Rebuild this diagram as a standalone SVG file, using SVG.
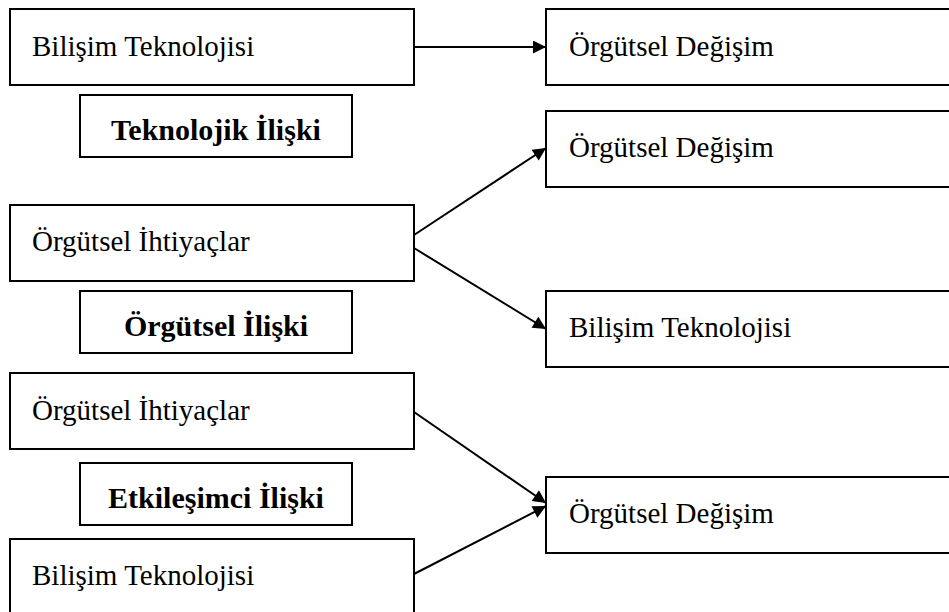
<svg xmlns="http://www.w3.org/2000/svg" width="949" height="612" viewBox="0 0 949 612">
<defs>
<style>
.box{fill:#fff;stroke:#000;stroke-width:2}
text{font-family:'Liberation Serif','Times New Roman','DejaVu Serif',serif;fill:#000}
.t{font-size:29px}
.b{font-size:30px;font-weight:bold}
.c{stroke:#000;stroke-width:2;fill:none;marker-end:url(#ah)}
</style>
<marker id="ah" viewBox="0 0 10 10" refX="10" refY="5" markerWidth="16" markerHeight="13" markerUnits="userSpaceOnUse" orient="auto">
<path d="M0,0 L10,5 L0,10 z" fill="#000"/>
</marker>
</defs>
<rect width="949" height="612" fill="#fff"/>
<g id="n1"><rect class="box" x="10" y="9" width="404" height="76"/><text class="t" x="32" y="56" font-family="Liberation Serif, serif">Bilişim Teknolojisi</text></g>
<g id="l1"><rect class="box" x="80" y="95" width="272" height="62"/><text class="b" x="216" y="140" text-anchor="middle" font-family="Liberation Serif, serif">Teknolojik İlişki</text></g>
<g id="r1"><rect class="box" x="546" y="9" width="420" height="76"/><text class="t" x="569" y="56" font-family="Liberation Serif, serif">Örgütsel Değişim</text></g>
<g id="r2"><rect class="box" x="546" y="111" width="420" height="76"/><text class="t" x="569" y="157" font-family="Liberation Serif, serif">Örgütsel Değişim</text></g>
<g id="n2"><rect class="box" x="10" y="205" width="404" height="76"/><text class="t" x="32" y="251" font-family="Liberation Serif, serif">Örgütsel İhtiyaçlar</text></g>
<g id="l2"><rect class="box" x="80" y="291" width="272" height="62"/><text class="b" x="216" y="336" text-anchor="middle" font-family="Liberation Serif, serif">Örgütsel İlişki</text></g>
<g id="r3"><rect class="box" x="546" y="291" width="420" height="76"/><text class="t" x="569" y="337" font-family="Liberation Serif, serif">Bilişim Teknolojisi</text></g>
<g id="n3"><rect class="box" x="10" y="373" width="404" height="76"/><text class="t" x="32" y="420" font-family="Liberation Serif, serif">Örgütsel İhtiyaçlar</text></g>
<g id="l3"><rect class="box" x="80" y="463" width="272" height="62"/><text class="b" x="216" y="508" text-anchor="middle" font-family="Liberation Serif, serif">Etkileşimci İlişki</text></g>
<g id="n4"><rect class="box" x="10" y="539" width="404" height="90"/><text class="t" x="32" y="585" font-family="Liberation Serif, serif">Bilişim Teknolojisi</text></g>
<g id="r4"><rect class="box" x="546" y="477" width="420" height="76"/><text class="t" x="569" y="523" font-family="Liberation Serif, serif">Örgütsel Değişim</text></g>
<g id="connectors">
<line class="c" x1="414" y1="47" x2="546" y2="47"/>
<line class="c" x1="414" y1="235" x2="546" y2="148"/>
<line class="c" x1="414" y1="248" x2="546" y2="329"/>
<line class="c" x1="414" y1="412" x2="546" y2="503"/>
<line class="c" x1="414" y1="574" x2="546" y2="506"/>
</g>
</svg>
